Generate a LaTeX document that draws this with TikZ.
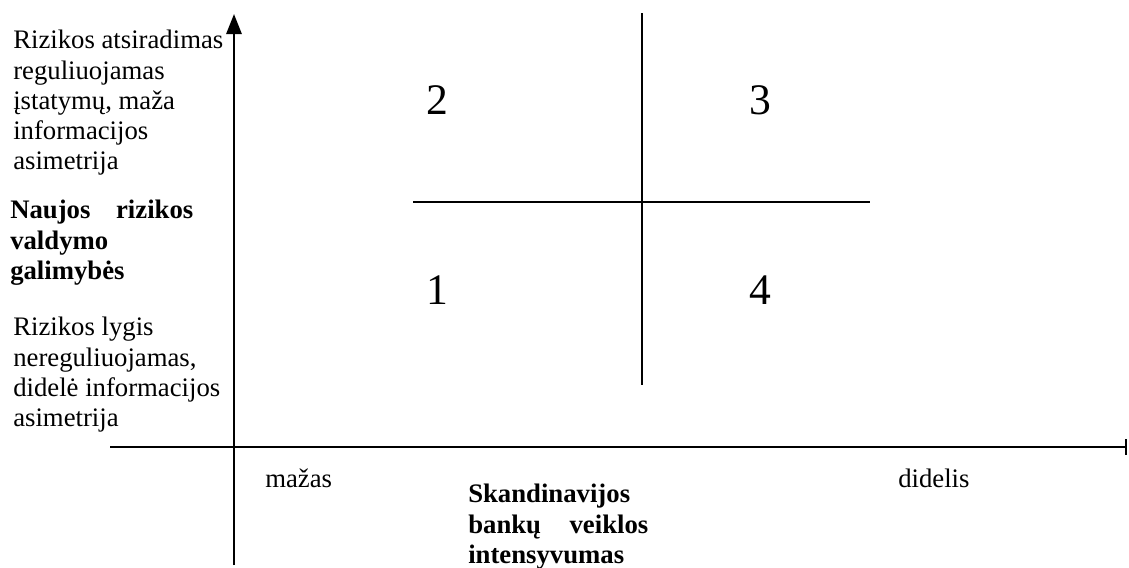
\documentclass[tikz,border=0pt]{standalone}
\usepackage{fontspec}
\setmainfont{Liberation Serif}
\usepackage{tikz}
\usetikzlibrary{arrows.meta,positioning}

\begin{document}
\begin{tikzpicture}[x=0.025cm,y=-0.025cm,
  every node/.style={font=\fontsize{19pt}{21.5pt}\selectfont,inner sep=0pt,align=left},
  axisline/.style={line width=1.6pt,black},
  quadnum/.style={font=\fontsize{31pt}{36pt}\selectfont}]
  \useasboundingbox (0,0) rectangle (1129,567);
  % axes
  \coordinate (ybot) at (234,565);
  \coordinate (ytop) at (234,14);
  \coordinate (xleft) at (110,447);
  \coordinate (xright) at (1127,447);
  \draw[axisline,-{Triangle[length=0.5cm,width=0.38cm]}] (ybot) -- (ytop);
  \draw[axisline,-{Bar[width=0.4cm]}] (xleft) -- (xright);
  % quadrant cross
  \coordinate (vtop) at (642,13);
  \coordinate (vbot) at (642,385);
  \coordinate (hleft) at (413,202);
  \coordinate (hright) at (870,202);
  \draw[axisline] (vtop) -- (vbot);
  \draw[axisline] (hleft) -- (hright);
  % quadrant numbers
  \node[quadnum] (q2) at (437,100) {2};
  \node[quadnum] (q3) at (760,100) {3};
  \node[quadnum] (q1) at (437,290) {1};
  \node[quadnum] (q4) at (760,290) {4};
  % y-axis labels
  \node[anchor=north west] (yhigh) at (13,30) {Rizikos atsiradimas\\reguliuojamas\\įstatymų, maža\\informacijos\\asimetrija};
  \node[anchor=north west,font=\fontsize{19pt}{21.5pt}\selectfont\bfseries] (ytitle) at (10,200) {\makebox[4.575cm][s]{Naujos rizikos}\\valdymo\\galimybės};
  \node[anchor=north west] (ylow) at (13,317) {Rizikos lygis\\nereguliuojamas,\\didelė informacijos\\asimetrija};
  % x-axis labels
  \node[anchor=base west] (xlow) at (265,487) {mažas};
  \node[anchor=base west] (xhigh) at (898,487) {didelis};
  \node[anchor=north west,font=\fontsize{19pt}{21.5pt}\selectfont\bfseries] (xtitle) at (468,484) {Skandinavijos\\\makebox[4.5cm][s]{bankų veiklos}\\intensyvumas};
\end{tikzpicture}
\end{document}
